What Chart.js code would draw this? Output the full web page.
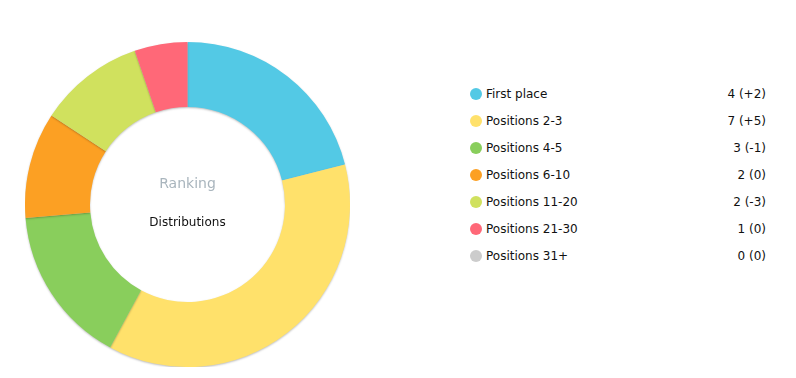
<!DOCTYPE html>
<html>
<head>
<meta charset="utf-8">
<script src="https://cdn.jsdelivr.net/npm/chart.js@4"></script>
<style>
  body { margin: 0; background: #fff; font-family: "DejaVu Sans", Verdana, sans-serif; }
  #wrap { position: relative; width: 796px; height: 378px; }
  #donut { position: absolute; left: 25px; top: 42px; width: 325px; height: 325px; }
  #legend { position: absolute; left: 470px; top: 85px; width: 296px; font-size: 12px; color: #111; }
  .row { position: relative; height: 27px; line-height: 18px; }
  .dot { position: absolute; left: 0; top: 3px; width: 12px; height: 12px; border-radius: 50%; }
  .lbl { position: absolute; left: 16px; top: 0; }
  .val { position: absolute; right: 0; top: 0; }
</style>
</head>
<body>
<div id="wrap">
  <div id="donut"><canvas id="chart"></canvas></div>
  <div id="legend"></div>
</div>
<script>
// données
const labels = ["First place", "Positions 2-3", "Positions 4-5", "Positions 6-10", "Positions 11-20", "Positions 21-30", "Positions 31+"];
const counts = [4, 7, 3, 2, 2, 1, 0];
const changes = ["+2", "+5", "-1", "0", "-3", "0", "0"];
const colors = ["#53C9E5", "#FFE16B", "#89CE5C", "#FCA023", "#D0E15E", "#FF6878", "#CCCCCC"];

// légende en HTML
const legend = document.getElementById("legend");
labels.forEach((l, i) => {
  const row = document.createElement("div");
  row.className = "row";
  row.innerHTML = '<span class="dot" style="background:' + colors[i] + '"></span>' +
    '<span class="lbl">' + l + '</span>' +
    '<span class="val">' + counts[i] + ' (' + changes[i] + ')</span>';
  legend.appendChild(row);
});

// ombre légère sous les segments
const shadowPlugin = {
  id: "shadow",
  beforeDatasetsDraw(chart) {
    const c = chart.ctx;
    c.save();
    c.shadowColor = "rgba(0,0,0,0.25)";
    c.shadowBlur = 2;
    c.shadowOffsetY = 1;
  },
  afterDatasetsDraw(chart) {
    chart.ctx.restore();
  }
};

// texte au centre
const centerText = {
  id: "centerText",
  afterDraw(chart) {
    const c = chart.ctx;
    const m = chart.getDatasetMeta(0).data[0];
    c.save();
    c.textAlign = "center";
    c.textBaseline = "middle";
    c.font = '14px "DejaVu Sans", Verdana, sans-serif';
    c.fillStyle = "#A9B5BD";
    c.fillText("Ranking", m.x, m.y - 20);
    c.font = '12px "DejaVu Sans", Verdana, sans-serif';
    c.fillStyle = "#111";
    c.fillText("Distributions", m.x, m.y + 18);
    c.restore();
  }
};

new Chart(document.getElementById("chart"), {
  type: "doughnut",
  data: {
    labels: labels,
    datasets: [{
      data: counts,
      backgroundColor: colors,
      borderWidth: 0
    }]
  },
  options: {
    responsive: true,
    maintainAspectRatio: false,
    animation: false,
    cutout: "60%",
    layout: { padding: 0 },
    plugins: {
      legend: { display: false },
      tooltip: { enabled: false }
    }
  },
  plugins: [shadowPlugin, centerText]
});
</script>
</body>
</html>
